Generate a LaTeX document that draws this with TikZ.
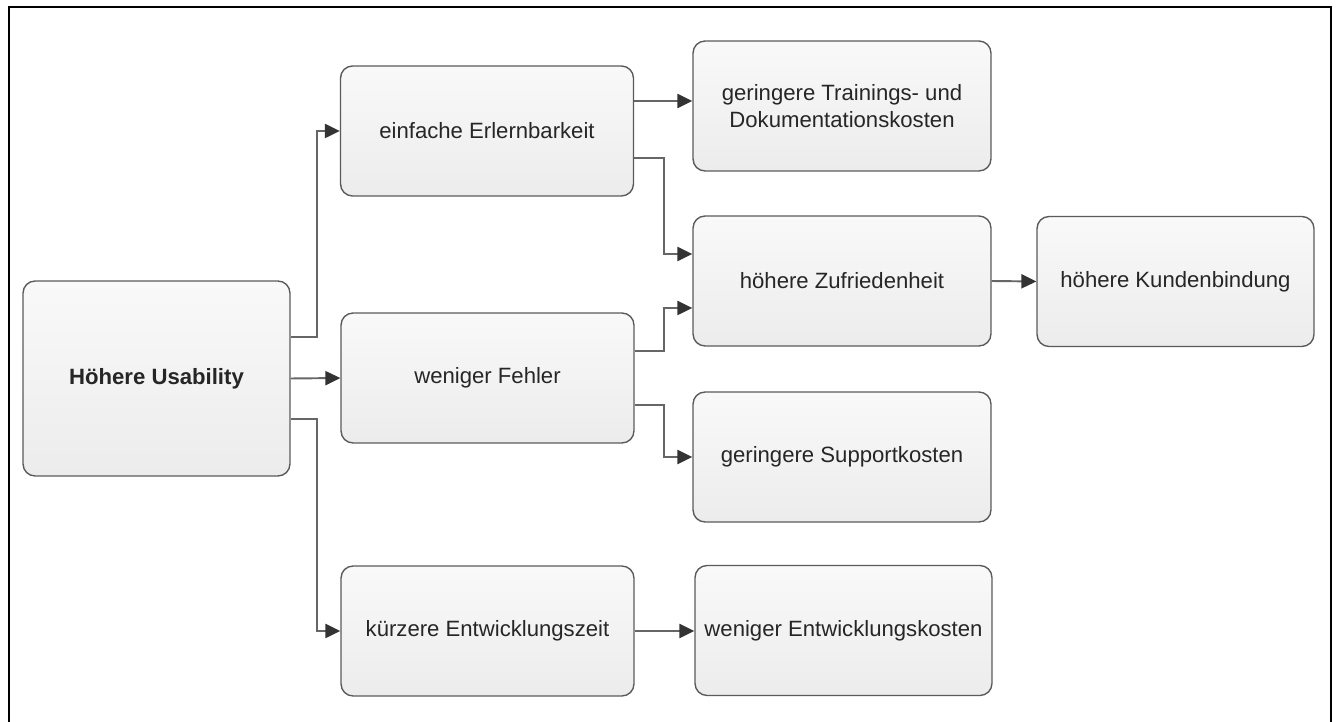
\documentclass[tikz,border=0pt]{standalone}
\usepackage{tikz}
\usetikzlibrary{positioning,arrows.meta}
\usepackage{fontspec}
\setmainfont{Liberation Sans}
\definecolor{boxline}{HTML}{5A5A5A}
\definecolor{boxtop}{HTML}{F9F9F9}
\definecolor{boxbot}{HTML}{ECECEC}
\definecolor{wire}{HTML}{666666}
\definecolor{tip}{HTML}{333333}

\begin{document}
\begin{tikzpicture}[x=0.02cm, y=-0.02cm,
	box/.style={draw=boxline, line width=0.8pt, rounded corners=0.24cm,
		top color=boxtop, bottom color=boxbot, text=black!85,
		minimum width=5.86cm, minimum height=2.6cm, align=center,
		font=\fontsize{12.6}{15}\selectfont},
	wire/.style={draw=wire, line width=1.1pt, -{Triangle[length=8.5pt, width=8pt, color=tip]}}
	]
	\useasboundingbox (0,0) rectangle (1336,722);
	\draw[line width=1.3pt] (9,722) -- (9,7) -- (1331,7) -- (1331,722);

	\node[box, minimum width=5.34cm, minimum height=3.9cm, font=\fontsize{12.6}{15}\selectfont\bfseries] (hu) at (156.5,378.5) {Höhere Usability};
	\node[box] (ee) at (487,131) {einfache Erlernbarkeit};
	\node[box] (wf) at (487.5,378) {weniger Fehler};
	\node[box] (kz) at (487.5,631) {kürzere Entwicklungszeit};
	\node[box, minimum width=5.96cm] (tk) at (842,106) {geringere Trainings- und\\Dokumentationskosten};
	\node[box, minimum width=5.96cm] (zf) at (842,281) {höhere Zufriedenheit};
	\node[box, minimum width=5.96cm] (sk) at (842,457) {geringere Supportkosten};
	\node[box, minimum width=5.94cm] (wk) at (843.5,630.5) {weniger Entwicklungskosten};
	\node[box, minimum width=5.54cm] (kb) at (1175.5,281.5) {höhere Kundenbindung};

	\draw[wire] ([yshift=0.83cm]hu.east) -- ++(0.52cm,0) |- (ee.west);
	\draw[wire] (hu.east) -- (wf.west);
	\draw[wire] ([yshift=-0.81cm]hu.east) -- ++(0.52cm,0) |- (kz.west);
	\draw[wire] ([yshift=0.6cm]ee.east) -- ([yshift=0.6cm]ee.east -| tk.west);
	\draw[wire] ([yshift=-0.54cm]ee.east) -- ++(0.6cm,0) |- ([yshift=0.54cm]zf.west);
	\draw[wire] ([yshift=0.54cm]wf.east) -- ++(0.58cm,0) |- ([yshift=-0.54cm]zf.west);
	\draw[wire] ([yshift=-0.54cm]wf.east) -- ++(0.58cm,0) |- (sk.west);
	\draw[wire] (zf.east) -- (kb.west);
	\draw[wire] (kz.east) -- (kz.east -| wk.west);
\end{tikzpicture}
\end{document}
